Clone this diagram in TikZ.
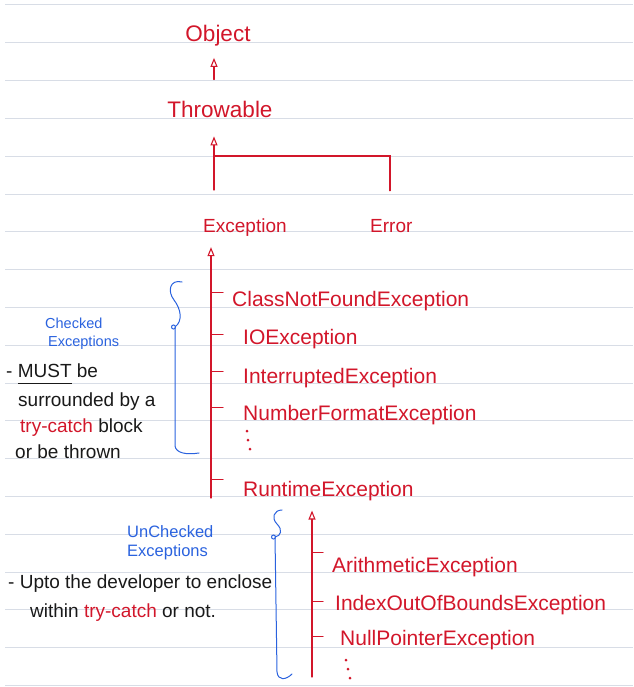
\documentclass[tikz,border=0pt]{standalone}
\usepackage{fontspec}
\setmainfont{Liberation Sans}
\usetikzlibrary{arrows.meta}
\definecolor{redink}{RGB}{210,22,42}
\definecolor{blueink}{RGB}{42,98,222}
\definecolor{ruleline}{RGB}{216,221,230}
\newcommand\inkunder[1]{\setbox0\hbox{#1}\rlap{\rule[-7pt]{\wd0}{0.9pt}}\box0\relax}

\begin{document}
\begin{tikzpicture}[x=1pt, y=-1pt,
	cls/.style={text=redink, inner sep=2pt, font=\fontsize{21}{24}\selectfont},
	root/.style={cls, font=\fontsize{22.5}{26}\selectfont},
	mid/.style={cls, font=\fontsize{19}{22}\selectfont},
	tag/.style={text=blueink, inner sep=0pt},
	note/.style={text=black!90, inner sep=0pt, font=\fontsize{19}{22}\selectfont},
	link/.style={redink, line width=1.1pt, line cap=round},
	inh/.style={link, -{Triangle[open, length=9pt, width=7pt]}},
	curly/.style={blueink, line width=1pt, line cap=round}]
	\useasboundingbox (0,0) rectangle (633,687);
	\foreach \k in {0,...,18} \draw[ruleline, line width=1pt] (5,5+37.8*\k) -- (633,5+37.8*\k);
	% top of the hierarchy
	\node[root, anchor=base] (object) at (218,42) {Object};
	\node[root, anchor=base] (throwable) at (220,118) {Throwable};
	\node[mid, anchor=base west] (exception) at (201,232) {Exception};
	\node[mid, anchor=base west] (error) at (368,232) {Error};
	\coordinate (fork) at (214,156);
	\coordinate (forkR) at (390,156);
	\draw[inh, shorten <=20pt, shorten >=9pt] (throwable.north -| fork) -- (object.south -| fork);
	\draw[inh, shorten >=16pt] (fork) -- (throwable.south -| fork);
	\draw[link, shorten <=26pt, shorten >=26pt] (exception.north -| fork) |- (forkR) -- (forkR |- error.north);
	% checked
	\coordinate (ctrunk) at (211,498);
	\draw[inh, shorten >=9pt] (ctrunk) -- (exception.south -| ctrunk);
	\node[cls, anchor=base west] (cnf) at (230,306) {ClassNotFoundException};
	\node[cls, anchor=base west] (ioe) at (241,344) {IOException};
	\node[cls, anchor=base west] (intr) at (241,383) {InterruptedException};
	\node[cls, anchor=base west] (nfe) at (241,420) {NumberFormatException};
	\node[cls, anchor=base west] (rte) at (241,496) {RuntimeException};
	\foreach \n/\s in {cnf/8,ioe/4,intr/6,nfe/7,rte/11} \draw[link] ([yshift=\s pt]\n.west -| ctrunk) -- ++(12,0);
	\foreach \p in {(247,431),(248,440),(250,449)} \fill[redink] \p circle (1.5pt);
	\draw[curly] (182,282) .. controls (170,279) and (167,291) .. (174,300) .. controls (181,309) and (183,321) .. (175,327) -- (175,446) .. controls (176,453) and (186,455) .. (199,453);
	\draw[curly] (173.5,327) circle (2pt);
	\node[tag, anchor=base west, font=\fontsize{14.5}{17}\selectfont] (chk) at (45,328) {Checked};
	\node[tag, anchor=base west, font=\fontsize{14.5}{17}\selectfont] (chk2) at (48,346) {Exceptions};
	\node[note, anchor=base west] (must) at (6,377) {- \inkunder{MUST} be};
	\node[note, anchor=base west] (surr) at (18,406) {surrounded by a};
	\node[note, anchor=base west] (trycb) at (20,432) {\textcolor{redink}{try-catch} block};
	\node[note, anchor=base west] (thrown) at (15,458) {or be thrown};
	% unchecked
	\coordinate (ltrunk) at (312,677);
	\draw[inh, shorten >=8pt] (ltrunk) -- (rte.south -| ltrunk);
	\node[cls, anchor=base west] (arith) at (330,572) {ArithmeticException};
	\node[cls, anchor=base west] (ioobe) at (333,610) {IndexOutOfBoundsException};
	\node[cls, anchor=base west] (npe) at (338,645) {NullPointerException};
	\foreach \n/\s in {arith/14,ioobe/3,npe/3} \draw[link] ([yshift=\s pt]\n.west -| ltrunk) -- ++(11,0);
	\foreach \p in {(346,660),(348,669),(350,678)} \fill[redink] \p circle (1.5pt);
	\draw[curly] (282,510) .. controls (274,510) and (271,518) .. (277,524) .. controls (283,530) and (281,536) .. (275,537) -- (277,672) .. controls (278,681) and (286,680) .. (292,674);
	\draw[curly] (273.5,537) circle (2pt);
	\node[tag, anchor=base west, font=\fontsize{16.5}{19}\selectfont] (unchk) at (127,537) {UnChecked};
	\node[tag, anchor=base west, font=\fontsize{16.5}{19}\selectfont] (unchk2) at (127,556) {Exceptions};
	\node[note, anchor=base west] (upto) at (8,588) {- Upto the developer to enclose};
	\node[note, anchor=base west] (within) at (30,617) {within \textcolor{redink}{try-catch} or not.};
\end{tikzpicture}
\end{document}
